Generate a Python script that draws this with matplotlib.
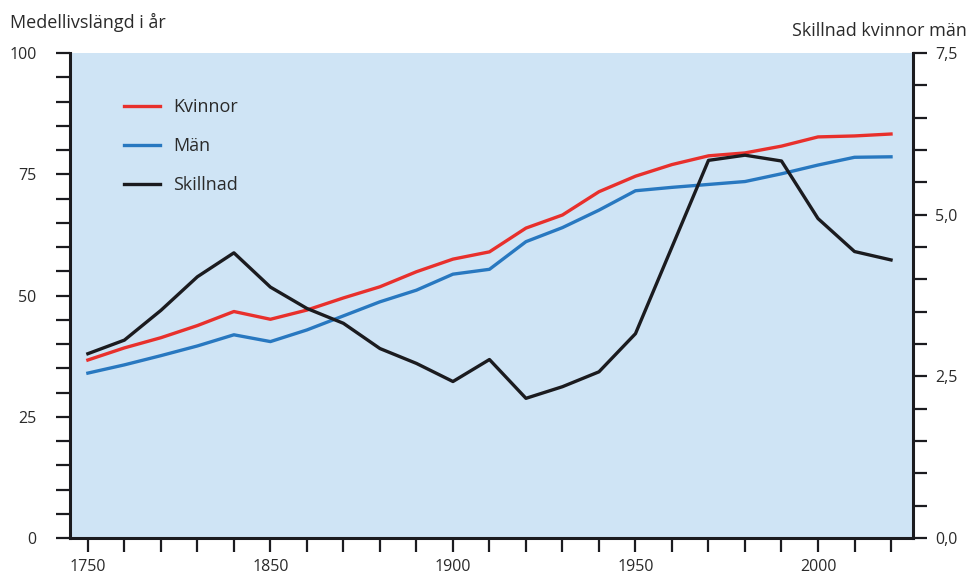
import matplotlib
matplotlib.use("Agg")
import matplotlib.pyplot as plt
from matplotlib.ticker import FixedLocator, MultipleLocator

plt.rcParams['font.family'] = ['Open Sans', 'DejaVu Sans']

# periods on the x axis (20-year steps up to 1850, then decades)
years = [1750, 1770, 1790, 1810, 1830, 1850, 1860, 1870, 1880, 1890, 1900,
         1910, 1920, 1930, 1940, 1950, 1960, 1970, 1980, 1990, 2000, 2010, 2020]
tick_labels = {1750: "1750", 1850: "1850", 1900: "1900", 1950: "1950", 2000: "2000"}

kvinnor = [36.7, 39.2, 41.3, 43.8, 46.7, 45.1, 47.0, 49.5, 51.8, 54.9, 57.5, 59.0,
           63.9, 66.6, 71.4, 74.6, 77.0, 78.8, 79.4, 80.8, 82.7, 82.9, 83.3]
man = [34.0, 35.7, 37.6, 39.6, 41.9, 40.5, 42.9, 45.8, 48.7, 51.1, 54.4, 55.4,
       61.1, 64.0, 67.6, 71.6, 72.3, 72.9, 73.5, 75.1, 76.9, 78.5, 78.6]
skillnad = [2.85, 3.06, 3.52, 4.04, 4.41, 3.88, 3.55, 3.32, 2.93, 2.70, 2.42, 2.76,
            2.16, 2.34, 2.57, 3.16, 4.50, 5.84, 5.92, 5.83, 4.94, 4.43, 4.30]

red = '#e8302c'
blue = '#2878c0'
black = '#1b1b1f'
bg = '#cfe4f5'
txt = '#2a2a2a'

x = list(range(len(years)))

fig = plt.figure(figsize=(9.68, 5.8), dpi=100)
ax = fig.add_axes([0.0723, 0.0724, 0.8708, 0.8362])
ax.set_facecolor(bg)

l1, = ax.plot(x, kvinnor, color=red, lw=2.4, label='Kvinnor', solid_joinstyle='round')
l2, = ax.plot(x, man, color=blue, lw=2.4, label='Män', solid_joinstyle='round')

ax2 = ax.twinx()
l3, = ax2.plot(x, skillnad, color=black, lw=2.4, label='Skillnad', solid_joinstyle='round')

ax.set_xlim(-0.49, 22.6)
ax.set_ylim(0, 100)
ax2.set_ylim(0, 7.5)

ax.yaxis.set_major_locator(FixedLocator([0, 25, 50, 75, 100]))
ax.yaxis.set_minor_locator(MultipleLocator(5))
ax2.yaxis.set_major_locator(FixedLocator([0, 2.5, 5, 7.5]))
ax2.yaxis.set_minor_locator(MultipleLocator(0.5))
ax2.set_yticklabels(['0,0', '2,5', '5,0', '7,5'])

ax.set_xticks(x)
ax.set_xticklabels([tick_labels.get(y, "") for y in years])

for a in (ax, ax2):
    a.spines['top'].set_visible(False)
    for s in ('left', 'right', 'bottom'):
        a.spines[s].set_linewidth(2.2)
        a.spines[s].set_color(black)
    a.tick_params(which='both', direction='out', length=10, width=1.6,
                  color=black, labelsize=11.5, labelcolor=txt)
ax.spines['right'].set_visible(False)
ax2.spines['left'].set_visible(False)
ax2.spines['bottom'].set_visible(False)
ax.tick_params(axis='y', pad=14)
ax2.tick_params(axis='y', pad=6)
ax.tick_params(axis='x', pad=5)

fig.text(0.010, 0.951, 'Medellivslängd i år', fontsize=13, color=txt, ha='left', va='baseline')
fig.text(0.999, 0.938, 'Skillnad kvinnor män', fontsize=13, color=txt, ha='right', va='baseline')

ax2.legend(handles=[l1, l2, l3], loc='upper left', bbox_to_anchor=(0.045, 0.94),
           frameon=False, fontsize=13, handlelength=2.0, handletextpad=0.7,
           labelspacing=1.15, labelcolor=txt)

fig.savefig('out.png', dpi=100)
